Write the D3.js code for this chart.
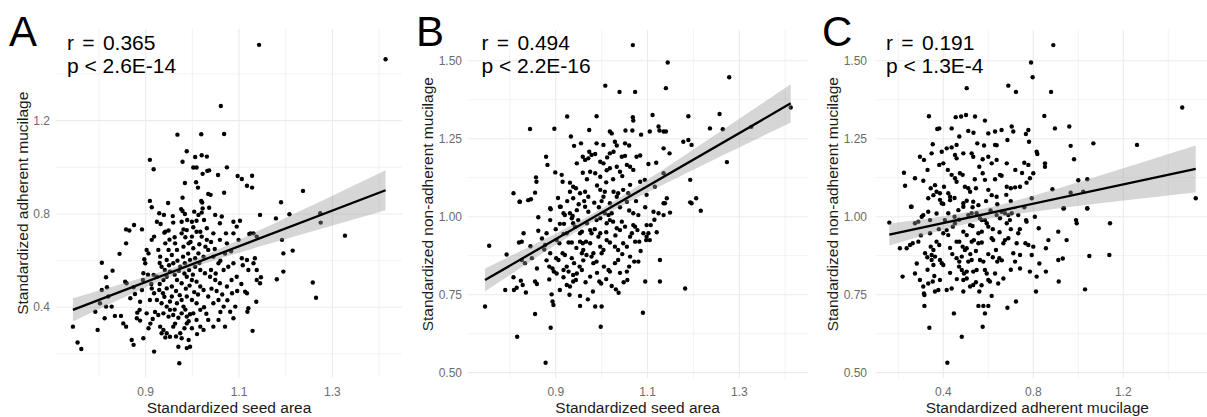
<!DOCTYPE html>
<html>
<head>
<meta charset="utf-8">
<script src="https://cdn.jsdelivr.net/npm/d3@7"></script>
<style>
  body { margin: 0; background: #fff; }
  svg { display: block; }
  text { font-family: "Liberation Sans", Arial, Helvetica, sans-serif; }
</style>
</head>
<body>
<svg id="chart" width="1207" height="417"></svg>
<script>
// ---- data: one [x, y] pair per seed ----
const seedAreaVsAdherent = [
  [1.143,1.525],[1.414,1.463],[1.061,1.263],[0.968,1.140],[1.019,1.142],[1.068,1.143],[0.988,1.069],[0.909,1.032],
  [0.979,1.024],[1.006,1.044],[1.020,1.052],[1.031,1.046],[0.917,0.992],[1.002,0.999],[1.009,0.999],[1.022,0.972],
  [1.032,0.985],[1.036,0.987],[1.055,0.967],[1.074,1.000],[1.097,0.963],[1.106,0.950],[1.128,0.964],[0.984,0.933],
  [1.008,0.936],[1.012,0.913],[1.117,0.921],[1.128,0.913],[1.068,0.891],[1.034,0.886],[1.039,0.882],[1.237,0.899],
  [0.909,0.856],[0.948,0.847],[0.979,0.870],[1.019,0.856],[1.021,0.849],[1.190,0.850],[0.913,0.829],[0.976,0.821],
  [1.022,0.824],[1.036,0.827],[0.929,0.803],[0.939,0.796],[0.958,0.791],[0.979,0.813],[0.984,0.800],[1.004,0.810],
  [1.013,0.796],[1.020,0.806],[1.049,0.796],[1.063,0.789],[1.088,0.767],[1.102,0.771],[1.145,0.796],[1.179,0.781],
  [1.208,0.799],[1.274,0.803],[1.275,0.763],[1.327,0.707],[0.858,0.734],[0.865,0.729],[0.875,0.753],[0.892,0.734],
  [0.924,0.767],[0.932,0.757],[0.942,0.724],[0.949,0.729],[0.959,0.763],[0.977,0.767],[0.981,0.734],[0.989,0.774],
  [0.999,0.767],[1.002,0.743],[1.009,0.771],[1.017,0.724],[1.025,0.774],[1.031,0.739],[1.045,0.717],[1.059,0.760],
  [1.072,0.717],[1.095,0.746],[1.122,0.714],[1.131,0.717],[1.138,0.703],[0.744,0.317],[0.754,0.249],[0.762,0.221],
  [0.797,0.303],[0.792,0.381],[0.806,0.591],[0.815,0.529],[0.829,0.557],[0.817,0.486],[0.806,0.474],[0.802,0.417],
  [0.815,0.403],[0.820,0.446],[0.827,0.403],[0.834,0.363],[0.812,0.353],[0.844,0.629],[0.856,0.510],[0.858,0.674],
  [0.859,0.503],[0.867,0.439],[0.847,0.363],[0.852,0.331],[0.858,0.317],[0.870,0.260],[0.874,0.239],[0.881,0.353],
  [0.882,0.377],[0.887,0.389],[0.888,0.424],[0.892,0.474],[0.894,0.517],[0.895,0.546],[0.899,0.589],[0.897,0.606],
  [0.874,0.486],[0.877,0.457],[0.888,0.343],[0.895,0.267],[0.906,0.310],[0.902,0.374],[0.909,0.431],[0.913,0.481],
  [0.917,0.539],[0.902,0.646],[0.913,0.689],[0.918,0.703],[0.906,0.631],[0.918,0.210],[0.927,0.646],[0.931,0.617],
  [0.934,0.574],[0.924,0.531],[0.938,0.517],[0.945,0.531],[0.952,0.553],[0.929,0.474],[0.937,0.460],[0.945,0.481],
  [0.956,0.446],[0.924,0.431],[0.934,0.417],[0.945,0.403],[0.952,0.389],[0.927,0.367],[0.938,0.374],[0.949,0.360],
  [0.959,0.367],[0.931,0.317],[0.938,0.303],[0.945,0.289],[0.952,0.274],[0.934,0.289],[0.942,0.271],[0.959,0.317],
  [0.956,0.489],[0.959,0.589],[0.945,0.603],[0.956,0.624],[0.963,0.674],[0.942,0.674],[0.949,0.646],[0.974,0.289],
  [0.977,0.267],[0.970,0.231],[0.972,0.160],[0.995,0.231],[0.992,0.260],[0.999,0.310],[0.988,0.331],[0.977,0.374],
  [0.981,0.403],[0.967,0.417],[0.977,0.431],[0.988,0.446],[0.999,0.431],[1.009,0.417],[1.017,0.389],[1.002,0.374],
  [0.988,0.360],[1.009,0.346],[1.017,0.317],[1.024,0.303],[0.967,0.517],[0.977,0.503],[0.988,0.531],[0.999,0.517],
  [1.009,0.510],[1.017,0.489],[1.024,0.474],[0.974,0.574],[0.984,0.589],[0.995,0.603],[1.006,0.574],[1.017,0.560],
  [1.027,0.546],[0.967,0.646],[0.981,0.660],[0.992,0.674],[1.002,0.653],[1.013,0.631],[1.024,0.617],[0.977,0.717],
  [0.988,0.731],[0.999,0.703],[1.009,0.724],[1.020,0.703],[1.031,0.689],[1.034,0.646],[1.045,0.617],[1.056,0.589],
  [1.067,0.560],[1.077,0.574],[1.088,0.589],[1.038,0.531],[1.049,0.517],[1.059,0.503],[1.074,0.489],[1.084,0.517],
  [1.095,0.531],[1.034,0.446],[1.045,0.417],[1.056,0.431],[1.067,0.403],[1.081,0.381],[1.092,0.403],[1.034,0.346],
  [1.045,0.317],[1.056,0.346],[1.070,0.317],[1.088,0.353],[1.059,0.689],[1.074,0.674],[1.088,0.717],[1.099,0.689],
  [1.106,0.610],[1.117,0.603],[1.131,0.589],[1.138,0.517],[1.145,0.503],[1.117,0.460],[1.113,0.467],[1.120,0.396],
  [1.118,0.381],[1.137,0.424],[1.129,0.299],[1.134,0.610],[1.138,0.560],[1.147,0.529],[1.125,0.717],[1.181,0.520],
  [1.195,0.553],[1.195,0.631],[1.215,0.643],[1.192,0.689],[1.258,0.506],[1.265,0.441],
  [0.962,0.540],[0.971,0.556],[0.983,0.545],[0.993,0.560],[1.001,0.540],[0.965,0.470],[0.973,0.452],[0.986,0.480],
  [0.994,0.493],[1.004,0.465],[1.012,0.455],[0.968,0.600],[0.980,0.617],[0.991,0.630],[1.006,0.610],[1.015,0.590],
  [0.962,0.390],[0.970,0.355],[0.985,0.390],[0.995,0.370],[0.992,0.340],[0.983,0.310],[0.963,0.330],[0.952,0.425],
  [0.940,0.445],[0.930,0.500],[0.941,0.560],[0.930,0.590],[0.950,0.580],[0.962,0.700],[0.951,0.690],[0.940,0.720],
  [1.040,0.560],[1.050,0.545],[1.041,0.480],[1.052,0.470],[1.064,0.455],[1.060,0.600],[1.070,0.630],[1.083,0.640],
  [1.028,0.660],[1.040,0.680],[1.048,0.650],[1.025,0.400],[1.030,0.372],[1.060,0.380],[1.075,0.430],[1.085,0.460],
  [1.096,0.470],[1.105,0.500],[0.918,0.460],[0.912,0.500],[0.905,0.540],[0.920,0.380],[0.915,0.350],[0.910,0.330],
  [0.985,0.700],[0.996,0.680],[1.015,0.670],[1.120,0.560],[1.108,0.580],[1.010,0.285],[0.965,0.275],[0.988,0.225]
];

const seedAreaVsNonAdherent = [
  [1.068,1.550],[1.144,1.494],[1.278,1.447],[1.008,1.420],[1.039,1.400],[1.073,1.400],[1.140,1.412],[0.925,1.321],
  [0.989,1.322],[1.068,1.319],[1.069,1.308],[1.111,1.326],[1.189,1.322],[1.257,1.329],[0.844,1.281],[0.897,1.282],
  [0.973,1.278],[1.018,1.273],[1.022,1.267],[1.052,1.276],[1.067,1.276],[1.086,1.263],[1.105,1.273],[1.124,1.289],
  [1.126,1.276],[1.135,1.273],[1.140,1.273],[1.236,1.283],[1.264,1.280],[1.326,1.288],[1.412,1.350],[0.933,1.257],
  [0.940,1.227],[0.989,1.235],[1.004,1.230],[1.029,1.240],[1.033,1.228],[1.051,1.235],[1.060,1.228],[1.076,1.192],
  [1.084,1.196],[0.973,1.208],[0.978,1.198],[0.986,1.201],[0.959,1.192],[0.946,1.171],[0.964,1.182],[0.971,1.187],
  [0.997,1.176],[1.004,1.171],[1.018,1.203],[1.026,1.208],[1.044,1.192],[1.051,1.195],[1.011,1.149],[1.018,1.155],
  [1.033,1.160],[1.040,1.144],[1.055,1.166],[1.062,1.160],[1.069,1.150],[1.102,1.169],[1.119,1.173],[1.135,1.219],
  [1.148,1.203],[1.178,1.240],[1.189,1.246],[1.196,1.230],[1.273,1.175],[0.879,1.192],[0.882,1.166],[0.899,1.142],
  [0.913,1.134],[0.857,1.126],[0.858,1.112],[0.915,1.112],[0.931,1.109],[0.938,1.096],[0.944,1.091],[0.959,1.141],
  [0.975,1.144],[0.986,1.139],[0.997,1.128],[0.953,1.075],[0.964,1.080],[0.971,1.064],[0.997,1.086],[1.007,1.080],
  [1.004,1.064],[1.026,1.080],[1.033,1.064],[1.036,1.075],[1.047,1.086],[1.062,1.102],[1.058,1.075],[1.084,1.112],
  [1.094,1.118],[1.098,1.070],[1.116,1.096],[1.135,1.139],[1.142,1.059],[1.135,1.043],[1.193,1.118],[1.193,1.046],
  [1.206,1.059],[0.808,1.075],[0.822,1.048],[0.846,1.056],[0.855,1.077],[0.931,1.080],[0.938,1.059],[0.888,1.027],
  [0.909,1.032],[1.018,1.043],[1.055,1.048],[0.746,0.712],[0.755,0.907],[0.793,0.879],[0.790,0.765],[0.808,0.806],
  [0.809,0.765],[0.815,0.772],[0.816,0.615],[0.820,0.917],[0.826,0.920],[0.830,0.947],[0.821,1.048],[0.840,1.053],
  [0.826,0.861],[0.833,0.851],[0.835,0.757],[0.824,0.795],[0.828,0.781],[0.848,0.867],[0.855,0.792],[0.859,0.784],
  [0.855,0.688],[0.859,0.834],[0.862,0.998],[0.862,0.955],[0.875,0.895],[0.877,0.909],[0.880,0.947],[0.878,0.532],
  [0.886,0.840],[0.888,0.883],[0.886,0.799],[0.889,1.024],[0.888,0.989],[0.891,0.751],[0.893,0.728],[0.895,0.717],
  [0.889,0.644],[0.893,0.834],[0.896,0.824],[0.902,0.818],[0.901,0.867],[0.906,0.861],[0.902,0.925],[0.908,0.915],
  [0.909,0.765],[0.911,1.032],[0.917,1.011],[0.920,1.005],[0.909,0.977],[0.918,0.977],[0.917,0.945],[0.924,0.947],
  [0.915,0.883],[0.920,0.877],[0.917,0.829],[0.924,0.840],[0.928,0.824],[0.917,0.806],[0.924,0.781],[0.931,0.776],
  [0.928,0.917],[0.935,0.917],[0.931,1.011],[0.937,1.002],[0.935,0.995],[0.938,0.979],[0.942,0.968],[0.935,0.867],
  [0.940,0.851],[0.938,0.813],[0.946,0.818],[0.938,0.792],[0.944,0.797],[0.946,1.021],[0.949,0.989],[0.953,0.947],
  [0.957,0.952],[0.953,0.920],[0.959,0.915],[0.957,0.883],[0.960,0.893],[0.952,0.840],[0.957,0.829],[0.953,0.746],
  [0.953,0.714],[0.964,1.032],[0.971,1.016],[0.968,0.979],[0.975,0.957],[0.978,0.947],[0.966,0.920],[0.975,0.915],
  [0.967,0.877],[0.978,0.872],[0.982,0.883],[0.975,0.808],[0.981,0.760],[0.982,0.851],[0.989,0.856],[0.989,0.989],
  [0.997,0.995],[0.993,0.936],[0.997,0.947],[0.986,0.712],[1.000,0.712],[0.998,0.647],[0.995,0.792],[0.999,0.786],
  [0.997,0.904],[1.004,0.893],[1.000,0.883],[1.007,1.011],[1.015,1.005],[1.022,1.011],[1.011,0.979],[1.018,0.989],
  [1.025,0.984],[1.011,0.925],[1.018,0.917],[1.015,0.829],[1.018,0.824],[1.022,0.778],[1.031,0.767],[1.037,0.756],
  [1.029,0.904],[1.036,0.893],[1.029,0.851],[1.036,0.861],[1.033,0.963],[1.040,0.957],[1.044,0.984],[1.051,0.968],
  [1.047,0.915],[1.055,0.904],[1.055,0.824],[1.056,0.797],[1.062,0.936],[1.066,0.947],[1.062,0.872],[1.069,0.973],
  [1.073,0.968],[1.078,0.957],[1.069,1.011],[1.080,1.005],[1.071,0.856],[1.080,0.856],[1.073,0.920],[1.082,0.920],
  [1.090,0.692],[1.091,0.947],[1.098,0.936],[1.102,0.947],[1.098,0.973],[1.107,0.973],[1.097,0.925],[1.105,0.925],
  [1.095,0.792],[1.113,1.016],[1.124,1.011],[1.135,1.005],[1.127,0.861],[1.138,1.043],[1.149,1.013],[1.182,0.770],
  [1.196,1.043],[1.216,1.019],[1.127,0.792],
  [0.950,1.040],[0.962,1.050],[0.984,1.045],[0.994,1.030],[1.000,1.050],[1.040,1.030],[1.060,1.020],[0.905,1.060],
  [0.925,1.050],[0.990,1.100],[1.010,1.110],[1.025,1.120],[1.045,1.130],[0.968,1.120],[0.985,0.960],[1.010,0.950],
  [1.030,0.940],[0.960,0.860],[0.945,0.900],[1.045,0.880],[0.990,0.820],[1.005,0.840],[1.040,0.820],[0.965,0.790],
  [1.010,0.800],[1.048,0.790],[0.930,0.750],[0.970,0.735],[1.060,0.840],[1.085,0.890],[1.075,1.050],[1.095,1.030],
  [0.880,0.860],[0.870,0.930],[0.845,0.905],[0.900,0.960],[1.115,0.990],[1.120,0.950],[1.012,1.190],[0.955,1.235]
];

const adherentVsNonAdherent = [
  [0.889,1.550],[0.790,1.494],[0.797,1.447],[0.504,1.412],[0.689,1.420],[0.723,1.400],[0.879,1.400],[1.462,1.350],
  [0.336,1.322],[0.455,1.319],[0.479,1.321],[0.501,1.326],[0.541,1.321],[0.585,1.308],[0.849,1.323],[0.896,1.283],
  [0.960,1.289],[0.373,1.281],[0.382,1.283],[0.437,1.283],[0.511,1.275],[0.534,1.269],[0.600,1.267],[0.630,1.273],
  [0.659,1.278],[0.704,1.289],[0.711,1.273],[0.767,1.265],[0.778,1.278],[0.471,1.257],[0.551,1.235],[0.581,1.228],
  [0.630,1.230],[0.637,1.229],[0.685,1.246],[0.781,1.240],[0.966,1.227],[1.067,1.235],[1.261,1.230],[0.353,1.232],
  [0.296,1.192],[0.314,1.182],[0.348,1.203],[0.393,1.208],[0.415,1.219],[0.437,1.222],[0.459,1.230],[0.382,1.166],
  [0.400,1.171],[0.452,1.198],[0.459,1.187],[0.489,1.203],[0.526,1.203],[0.533,1.192],[0.575,1.184],[0.600,1.192],
  [0.615,1.171],[0.637,1.182],[0.682,1.171],[0.760,1.173],[0.778,1.166],[0.815,1.208],[0.818,1.201],[0.852,1.171],
  [0.852,1.160],[0.981,1.184],[0.225,1.141],[0.230,1.099],[0.274,1.123],[0.311,1.115],[0.344,1.091],[0.363,1.101],
  [0.333,1.059],[0.356,1.069],[0.370,1.080],[0.385,1.075],[0.403,1.096],[0.422,1.075],[0.430,1.064],[0.437,1.134],
  [0.452,1.123],[0.459,1.112],[0.474,1.139],[0.486,1.134],[0.496,1.096],[0.511,1.091],[0.519,1.080],[0.545,1.091],
  [0.575,1.139],[0.585,1.118],[0.600,1.086],[0.615,1.069],[0.637,1.064],[0.652,1.134],[0.659,1.131],[0.682,1.096],
  [0.700,1.091],[0.719,1.094],[0.741,1.096],[0.770,1.109],[0.785,1.123],[0.800,1.139],[0.793,1.059],[0.885,1.088],
  [0.934,1.026],[0.966,1.077],[1.000,1.117],[1.040,1.120],[1.022,1.080],[1.040,1.026],[1.522,1.059],[0.259,1.032],
  [0.400,1.041],[0.430,1.053],[0.489,1.043],[0.504,1.051],[0.533,1.048],[0.556,1.037],[0.160,0.981],[0.207,0.899],
  [0.219,0.808],[0.237,0.899],[0.252,0.909],[0.264,0.915],[0.256,1.032],[0.274,0.979],[0.289,0.984],[0.282,0.850],
  [0.274,0.818],[0.289,0.920],[0.296,0.797],[0.304,1.000],[0.311,1.005],[0.311,0.776],[0.314,0.754],[0.316,0.749],
  [0.316,0.714],[0.333,1.016],[0.341,0.989],[0.319,0.883],[0.329,0.870],[0.338,0.644],[0.341,0.947],[0.344,0.904],
  [0.356,0.893],[0.348,0.877],[0.363,0.872],[0.348,0.861],[0.356,0.845],[0.333,0.786],[0.353,0.792],[0.363,0.760],
  [0.378,0.765],[0.370,0.920],[0.382,0.909],[0.385,1.054],[0.393,1.043],[0.385,0.861],[0.393,0.851],[0.400,0.845],
  [0.385,0.797],[0.400,0.947],[0.415,0.957],[0.422,0.941],[0.407,0.989],[0.422,1.011],[0.415,0.765],[0.418,0.532],
  [0.437,0.770],[0.442,0.968],[0.452,0.979],[0.447,0.690],[0.459,0.920],[0.471,0.920],[0.459,0.867],[0.471,0.856],
  [0.482,0.872],[0.467,1.021],[0.489,1.032],[0.482,0.615],[0.489,0.760],[0.489,0.952],[0.504,0.941],[0.486,0.904],
  [0.496,0.893],[0.504,0.899],[0.482,0.829],[0.492,0.818],[0.504,0.824],[0.489,0.797],[0.504,0.802],[0.511,1.005],
  [0.526,1.011],[0.519,0.973],[0.530,0.970],[0.511,0.856],[0.526,0.861],[0.519,0.776],[0.533,0.781],[0.526,0.920],
  [0.536,0.925],[0.533,0.824],[0.548,0.829],[0.548,1.011],[0.563,0.995],[0.571,0.989],[0.556,0.947],[0.571,0.952],
  [0.556,0.915],[0.571,0.917],[0.556,0.714],[0.578,0.714],[0.600,0.714],[0.563,0.861],[0.578,0.856],[0.575,0.647],
  [0.585,0.690],[0.585,0.989],[0.593,0.979],[0.600,0.968],[0.585,0.829],[0.593,0.818],[0.600,0.797],[0.607,0.792],
  [0.615,0.931],[0.622,0.925],[0.615,0.746],[0.637,1.005],[0.652,0.995],[0.634,0.893],[0.649,0.867],[0.640,0.856],
  [0.630,0.818],[0.644,0.786],[0.659,1.016],[0.674,1.011],[0.689,1.005],[0.704,1.011],[0.667,0.915],[0.674,0.925],
  [0.689,0.931],[0.667,0.802],[0.682,0.979],[0.696,0.989],[0.685,0.708],[0.711,0.883],[0.719,0.856],[0.723,0.728],
  [0.726,0.915],[0.733,0.947],[0.733,1.005],[0.741,0.877],[0.741,0.834],[0.768,0.989],[0.770,0.984],[0.765,0.915],
  [0.778,0.909],[0.785,0.824],[0.793,0.877],[0.800,0.904],[0.807,1.000],[0.812,0.760],[0.815,0.808],[0.824,0.963],
  [0.827,0.850],[0.856,0.824],[0.856,0.899],[0.867,0.925],[0.913,0.792],[0.911,0.861],[0.931,0.866],[0.911,0.952],
  [0.936,1.027],[0.948,0.925],[0.990,0.989],[0.993,0.979],[1.030,0.767],[1.040,1.027],[1.049,0.874],[1.138,0.877],
  [1.141,0.979],
  [0.370,1.010],[0.450,1.000],[0.470,0.990],[0.530,1.030],[0.610,1.020],[0.640,1.040],[0.700,1.050],[0.760,1.030],
  [0.430,0.900],[0.440,0.880],[0.520,0.880],[0.545,0.890],[0.600,0.880],[0.620,0.870],[0.660,0.860],[0.700,0.830],
  [0.430,0.820],[0.460,0.800],[0.545,0.790],[0.570,0.780],[0.650,0.950],[0.700,0.960],[0.740,0.960],[0.620,0.960],
  [0.380,0.960],[0.300,0.940],[0.330,0.830],[0.450,1.060],[0.590,1.050],[0.680,1.070],[0.750,1.140],[0.720,1.150],
  [0.560,1.160],[0.420,1.150],[0.330,1.150],[0.630,1.120],[0.540,1.120],[0.470,0.840],[0.360,0.810],[0.560,0.760]
];

// ---- labels and fitted-line summaries ----
const panelLetters = ["A", "B", "C"];
const rValues = ["0.365", "0.494", "0.191"];
const pValues = ["2.6E-14", "2.2E-16", "1.3E-4"];
const xTitles = ["Standardized seed area", "Standardized seed area", "Standardized adherent mucilage"];
const yTitles = ["Standardized adherent mucilage", "Standardized non-adherent mucilage", "Standardized non-adherent mucilage"];
const xTicksA = [0.9, 1.1, 1.3];
const yTicksA = [0.4, 0.8, 1.2];
const xTicksB = [0.9, 1.1, 1.3];
const yTicksB = [0.50, 0.75, 1.00, 1.25, 1.50];
const xTicksC = [0.4, 0.8, 1.2];
const yTicksC = [0.50, 0.75, 1.00, 1.25, 1.50];
// linear fit y = intercept + slope * x; 95% band half-width = sqrt(c^2 + (s*(x - mean))^2)
const fitIntercepts = [-0.180, 0.163, 0.918];
const fitSlopes = [0.765, 0.850, 0.1545];
const fitXMeans = [0.985, 0.99, 0.56];
const fitBandCentre = [0.016, 0.013, 0.018];
const fitBandSpread = [0.196, 0.142, 0.076];

// ---- layout ----
const layouts = [
  { data: seedAreaVsAdherent, xTicks: xTicksA, yTicks: yTicksA, yFmt: ".1f",
    xDom: [0.708, 1.449], xRange: [56.1, 401.9], yDom: [0.099, 1.593], yRange: [377.5, 29],
    letterX: 9, statX: 67, yTitleX: 28, yLabelRight: 50 },
  { data: seedAreaVsNonAdherent, xTicks: xTicksB, yTicks: yTicksB, yFmt: ".2f",
    xDom: [0.708, 1.449], xRange: [467.6, 807.7], yDom: [0.481, 1.599], yRange: [378.6, 29.8],
    letterX: 416, statX: 481.5, yTitleX: 433, yLabelRight: 462 },
  { data: adherentVsNonAdherent, xTicks: xTicksC, yTicks: yTicksC, yFmt: ".2f",
    xDom: [0.099, 1.593], xRange: [875.6, 1211.7], yDom: [0.481, 1.599], yRange: [378.6, 29.8],
    letterX: 822, statX: 886, yTitleX: 838, yLabelRight: 867 }
];

const svg = d3.select("#chart");
const gridColor = "#ebebeb";

layouts.forEach((L, i) => {
  const x = d3.scaleLinear().domain(L.xDom).range(L.xRange);
  const y = d3.scaleLinear().domain(L.yDom).range(L.yRange);
  const g = svg.append("g");
  const clipId = "clip" + i;
  svg.append("clipPath").attr("id", clipId).append("rect")
    .attr("x", L.xRange[0]).attr("y", L.yRange[1])
    .attr("width", L.xRange[1] - L.xRange[0]).attr("height", L.yRange[0] - L.yRange[1]);

  // minor grid lines halfway between major ticks (plus one step beyond each end)
  const minorOf = ticks => {
    const step = ticks[1] - ticks[0];
    const out = [ticks[0] - step / 2];
    ticks.forEach(t => out.push(t + step / 2));
    return out;
  };
  const xMinor = minorOf(L.xTicks).filter(v => v >= L.xDom[0] && v <= L.xDom[1]);
  const yMinor = minorOf(L.yTicks).filter(v => v >= L.yDom[0] && v <= L.yDom[1]);

  const grid = g.append("g").attr("clip-path", `url(#${clipId})`);
  grid.selectAll(".xminor").data(xMinor).join("line")
    .attr("x1", d => x(d)).attr("x2", d => x(d))
    .attr("y1", L.yRange[0]).attr("y2", L.yRange[1])
    .attr("stroke", gridColor).attr("stroke-width", 0.6);
  grid.selectAll(".yminor").data(yMinor).join("line")
    .attr("y1", d => y(d)).attr("y2", d => y(d))
    .attr("x1", L.xRange[0]).attr("x2", L.xRange[1])
    .attr("stroke", gridColor).attr("stroke-width", 0.6);
  grid.selectAll(".xmajor").data(L.xTicks).join("line")
    .attr("x1", d => x(d)).attr("x2", d => x(d))
    .attr("y1", L.yRange[0]).attr("y2", L.yRange[1])
    .attr("stroke", gridColor).attr("stroke-width", 1.1);
  grid.selectAll(".ymajor").data(L.yTicks).join("line")
    .attr("y1", d => y(d)).attr("y2", d => y(d))
    .attr("x1", L.xRange[0]).attr("x2", L.xRange[1])
    .attr("stroke", gridColor).attr("stroke-width", 1.1);

  // tick labels
  g.selectAll(".xlab").data(L.xTicks).join("text")
    .attr("x", d => x(d)).attr("y", 396)
    .attr("text-anchor", "middle").attr("font-size", 12).attr("fill", "#6b6b6b")
    .text(d => d3.format(".1f")(d));
  g.selectAll(".ylab").data(L.yTicks).join("text")
    .attr("x", L.yLabelRight).attr("y", d => y(d) + 4.2)
    .attr("text-anchor", "end").attr("font-size", 12).attr("fill", "#6b6b6b")
    .text(d => d3.format(L.yFmt)(d));

  // axis titles
  g.append("text")
    .attr("x", (L.xRange[0] + Math.min(L.xRange[1], 1207)) / 2 + (i === 2 ? -4 : 0))
    .attr("y", 413).attr("text-anchor", "middle")
    .attr("font-size", 15.5).attr("fill", "#1a1a1a").text(xTitles[i]);
  g.append("text")
    .attr("transform", `translate(${L.yTitleX},${(L.yRange[0] + L.yRange[1]) / 2}) rotate(-90)`)
    .attr("text-anchor", "middle").attr("font-size", 15.5).attr("fill", "#1a1a1a")
    .text(yTitles[i]);

  // points, then the confidence band and fitted line over the range of x values
  const [xmin, xmax] = d3.extent(L.data, d => d[0]);
  const xs = d3.range(0, 61).map(k => xmin + (xmax - xmin) * k / 60);
  const fit = v => fitIntercepts[i] + fitSlopes[i] * v;
  const hw = v => Math.sqrt(fitBandCentre[i] ** 2 + (fitBandSpread[i] * (v - fitXMeans[i])) ** 2);
  const plot = g.append("g").attr("clip-path", `url(#${clipId})`);

  plot.selectAll(".pt").data(L.data).join("circle")
    .attr("cx", d => x(d[0])).attr("cy", d => y(d[1]))
    .attr("r", 2.2).attr("fill", "#000");

  plot.append("path")
    .datum(xs)
    .attr("d", d3.area().x(v => x(v)).y0(v => y(fit(v) - hw(v))).y1(v => y(fit(v) + hw(v))))
    .attr("fill", "#999999").attr("fill-opacity", 0.4);
  plot.append("path")
    .datum([xmin, xmax])
    .attr("d", d3.line().x(v => x(v)).y(v => y(fit(v))))
    .attr("stroke", "#000").attr("stroke-width", 2.3).attr("fill", "none");

  // panel letter and correlation statistics
  svg.append("text").attr("x", L.letterX).attr("y", 46)
    .attr("font-size", 42).attr("fill", "#000").text(panelLetters[i]);
  svg.append("text").attr("x", L.statX).attr("y", 49.5)
    .attr("font-size", 21).attr("word-spacing", 2.5).attr("fill", "#000").text("r = " + rValues[i]);
  svg.append("text").attr("x", L.statX).attr("y", 72.7)
    .attr("font-size", 21).attr("fill", "#000").text("p < " + pValues[i]);
});
</script>
</body>
</html>
